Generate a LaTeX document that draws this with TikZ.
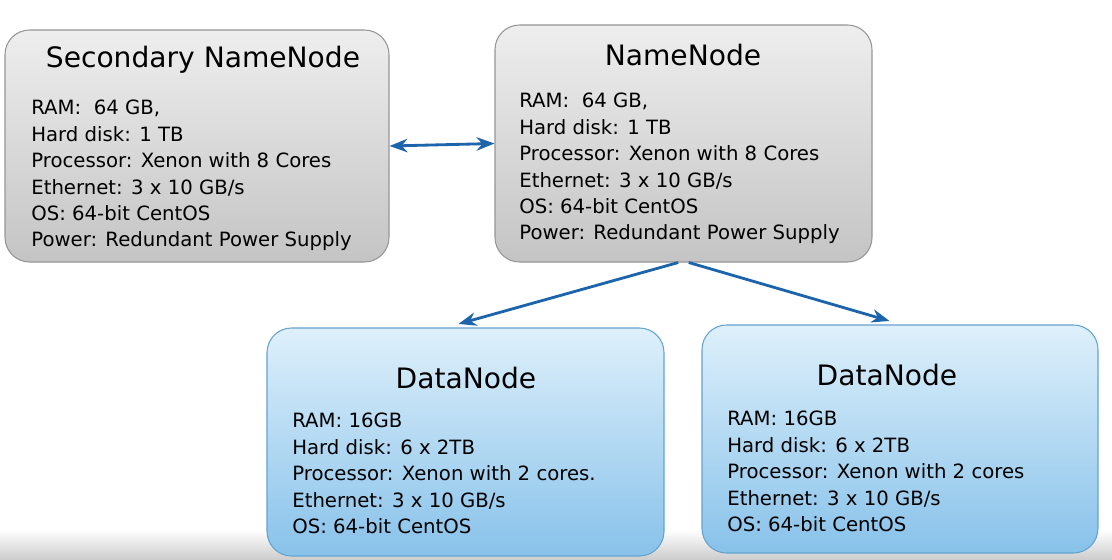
\documentclass[tikz,border=0pt]{standalone}
\usepackage{fontspec}
\setmainfont{DejaVu Sans}
\usepackage{xcolor}
\usetikzlibrary{arrows.meta,positioning}
\definecolor{boxgraytop}{RGB}{238,238,238}
\definecolor{boxgraybot}{RGB}{196,196,196}
\definecolor{boxgrayedge}{RGB}{150,150,150}
\definecolor{boxbluetop}{RGB}{222,240,251}
\definecolor{boxbluebot}{RGB}{136,194,234}
\definecolor{boxblueedge}{RGB}{100,162,208}
\definecolor{linkblue}{RGB}{28,100,172}

\begin{document}
\begin{tikzpicture}[
    >=Stealth,
    srvbox/.style={rounded corners=14pt, draw=#1edge, line width=0.6pt,
        top color=#1top, bottom color=#1bot, inner sep=0pt},
    ttl/.style={font=\fontsize{16}{19}\selectfont, text=black},
    spec/.style={font=\fontsize{11.2}{15}\selectfont, text=black,
        align=left, inner sep=0pt, anchor=north west},
    arrw/.style={linkblue, line width=1.6pt, arrows={#1}},
]

% === PAGE ===
\useasboundingbox (0, 0) rectangle (22.24, -11.2);
\fill[white] (0, 0) rectangle (22.24, -11.2);
\shade[top color=white, bottom color=black!20] (0, -10.6) rectangle (22.24, -11.2);

% === NAME NODES (top row) ===
\node[srvbox=boxgray, minimum width=7.68cm, minimum height=4.64cm] (snn) at (3.94, -2.92) {};
\node[ttl] (snnttl) at (4.06, -1.2) {Secondary NameNode};
\node[spec] (snnspec) at (0.62, -2.0) {RAM:\ \ 64 GB,\\Hard disk: 1 TB\\Processor: Xenon with 8 Cores\\Ethernet: 3 x 10 GB/s\\OS: 64-bit CentOS\\Power: Redundant Power Supply};

\node[srvbox=boxgray, minimum width=7.54cm, minimum height=4.74cm] (nn) at (13.67, -2.87) {};
\node[ttl] (nnttl) at (13.66, -1.1) {NameNode};
\node[spec] (nnspec) at (10.38, -1.86) {RAM:\ \ 64 GB,\\Hard disk: 1 TB\\Processor: Xenon with 8 Cores\\Ethernet: 3 x 10 GB/s\\OS: 64-bit CentOS\\Power: Redundant Power Supply};

% === DATA NODES (bottom row) ===
\node[srvbox=boxblue, minimum width=7.94cm, minimum height=4.56cm] (dn1) at (9.31, -8.84) {};
\node[ttl] (dn1ttl) at (9.32, -7.56) {DataNode};
\node[spec] (dn1spec) at (5.84, -8.26) {RAM: 16GB\\Hard disk: 6 x 2TB\\Processor: Xenon with 2 cores.\\Ethernet: 3 x 10 GB/s\\OS: 64-bit CentOS};

\node[srvbox=boxblue, minimum width=7.92cm, minimum height=4.56cm] (dn2) at (18.0, -8.78) {};
\node[ttl] (dn2ttl) at (17.74, -7.5) {DataNode};
\node[spec] (dn2spec) at (14.54, -8.22) {RAM: 16GB\\Hard disk: 6 x 2TB\\Processor: Xenon with 2 cores\\Ethernet: 3 x 10 GB/s\\OS: 64-bit CentOS};

% === LINKS ===
\draw[arrw=<->] (snn.east) -- (nn.west);
\draw[arrw=->] ([xshift=-3pt]nn.south) -- ([xshift=-4pt, yshift=2pt]dn1.north);
\draw[arrw=->] ([xshift=3pt]nn.south) -- ([xshift=-6pt, yshift=2pt]dn2.north);

\end{tikzpicture}
\end{document}
